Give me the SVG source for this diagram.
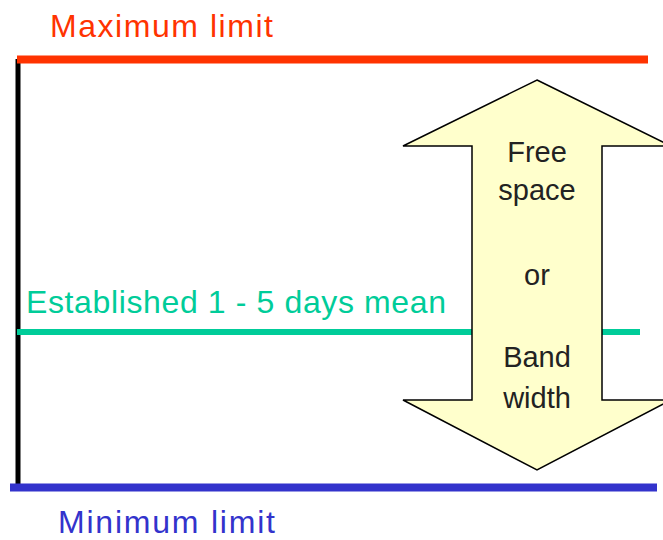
<svg xmlns="http://www.w3.org/2000/svg" width="663" height="540" viewBox="0 0 663 540">
<style>
.lbl{font-family:"Liberation Sans",Arial,sans-serif;font-size:32px}
.arr{font-family:"Liberation Sans",Arial,sans-serif;font-size:29px;fill:#222;text-anchor:middle}
</style>
<rect width="663" height="540" fill="#fff"/>
<g id="connectors">
<line x1="18" y1="59" x2="18" y2="486" stroke="#000" stroke-width="5"/>
<line x1="17" y1="59.5" x2="648" y2="59.5" stroke="#FF3300" stroke-width="8"/>
<line x1="17" y1="332" x2="640" y2="332" stroke="#00CC99" stroke-width="6"/>
<line x1="10" y1="487.5" x2="657" y2="487.5" stroke="#3333CC" stroke-width="8"/>
</g>
<g id="max-label"><text class="lbl" x="50" y="37" fill="#FF3300" textLength="223" lengthAdjust="spacing">Maximum limit</text></g>
<g id="mean-label"><text class="lbl" x="26" y="313" fill="#00CC99" font-size="33" textLength="420" lengthAdjust="spacing">Established 1 - 5 days mean</text></g>
<g id="min-label"><text class="lbl" x="58" y="533" fill="#3333CC" font-size="31" textLength="217" lengthAdjust="spacing">Minimum limit</text></g>
<g id="band-arrow">
<polygon points="537,80 671,146 602,146 602,400 671,400 537,470 403,400 472,400 472,146 403,146" fill="#FFFFCC" stroke="#000" stroke-width="1.5"/>
<text class="arr" x="537" y="162">Free</text>
<text class="arr" x="537" y="200">space</text>
<text class="arr" x="537" y="285">or</text>
<text class="arr" x="537" y="367">Band</text>
<text class="arr" x="537" y="408">width</text>
</g>
</svg>
